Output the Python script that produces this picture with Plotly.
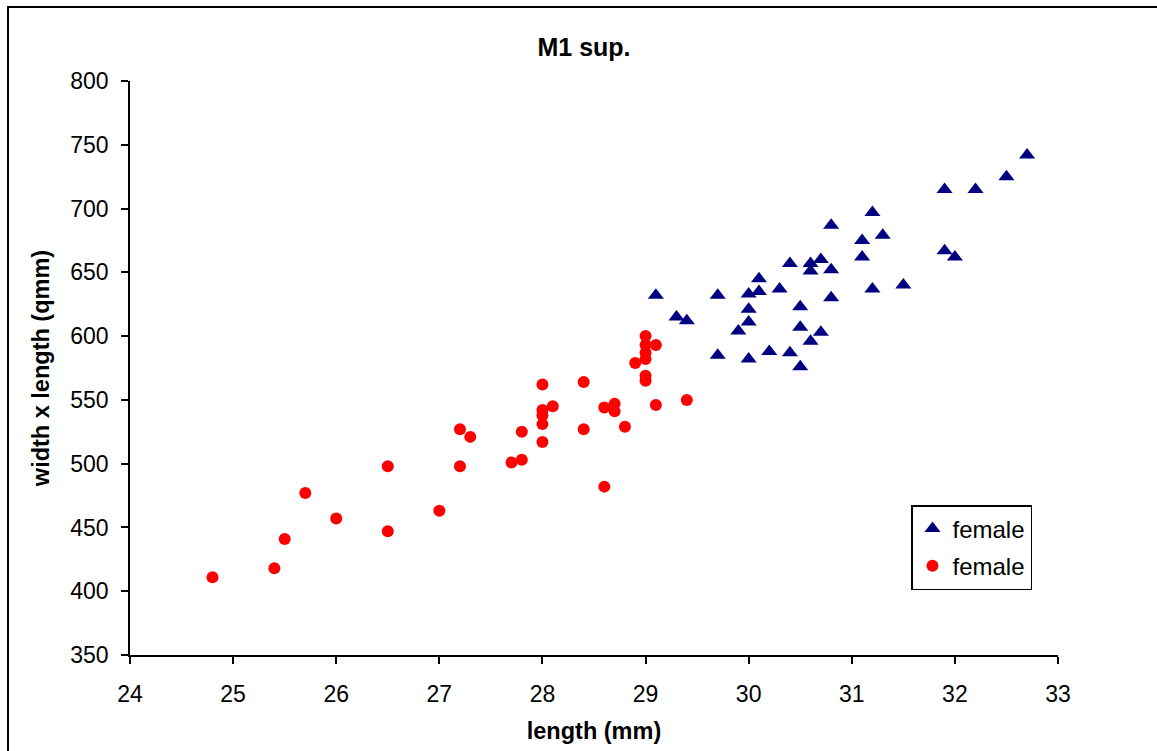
import plotly.graph_objects as go

# Data
blue_x = [29.1, 29.3, 29.4, 29.7, 29.7, 29.9, 30.0, 30.0, 30.0, 30.0, 30.1, 30.1, 30.2,
          30.3, 30.4, 30.4, 30.5, 30.5, 30.5, 30.6, 30.7, 30.6, 30.6, 30.7, 30.8, 30.8,
          30.8, 31.1, 31.1, 31.2, 31.2, 31.3, 31.5, 31.9, 31.9, 32.0, 32.2, 32.5, 32.7]
blue_y = [632, 615, 612, 632, 585, 604, 611, 621, 633, 582, 635, 645, 588,
          637, 587, 657, 623, 607, 576, 596, 603, 651, 657, 660, 630, 652,
          687, 675, 662, 697, 637, 679, 640, 715, 667, 662, 715, 725, 742]

red_x = [24.8, 25.4, 25.5, 25.7, 26.0, 26.5, 26.5, 27.0, 27.2, 27.2, 27.3, 27.7, 27.8,
         27.8, 28.0, 28.0, 28.0, 28.0, 28.0, 28.1, 28.4, 28.4, 28.6, 28.6, 28.7, 28.7,
         28.8, 28.9, 29.0, 29.0, 29.0, 29.0, 29.0, 29.0, 29.1, 29.1, 29.4]
red_y = [411, 418, 441, 477, 457, 498, 447, 463, 527, 498, 521, 501, 525,
         503, 562, 542, 538, 531, 517, 545, 564, 527, 544, 482, 547, 541,
         529, 579, 600, 593, 587, 582, 569, 565, 593, 546, 550]

series_names = ["female", "female"]
x_ticks = list(range(24, 34))
y_ticks = list(range(350, 801, 50))

fig = go.Figure()
fig.add_trace(go.Scatter(x=blue_x, y=blue_y, mode="markers", name=series_names[0],
                         legendgroup="a",
                         marker=dict(symbol="triangle-up", size=14, color="#000080",
                                     line=dict(width=0))))
fig.add_trace(go.Scatter(x=red_x, y=red_y, mode="markers", name=series_names[1],
                         legendgroup="b",
                         marker=dict(symbol="circle", size=12, color="#FF0000",
                                     line=dict(width=0))))

L, R, T, B = 130, 1157 - 1058, 81, 751 - 655
W, H = 1157 - L - R, 751 - T - B

def px(xp):
    return (xp - L) / W

def py(yp):
    return (751 - B - yp) / H

font = "Liberation Sans, Arial, sans-serif"
fig.update_layout(
    width=1157, height=751,
    margin=dict(l=L, r=R, t=T, b=B),
    paper_bgcolor="white", plot_bgcolor="white",
    font=dict(family=font, color="black", size=24),
    title=dict(text="<b>M1 sup.</b>", xref="container", x=584 / 1157, xanchor="center",
               y=1 - 47 / 751, yanchor="middle", font=dict(size=25)),
    showlegend=True,
    legend=dict(x=px(911), y=py(505), xanchor="left", yanchor="top",
                bgcolor="white", bordercolor="black", borderwidth=1.5,
                font=dict(size=24), tracegroupgap=3, itemwidth=30,
                itemsizing="trace"),
    shapes=[dict(type="rect", xref="paper", yref="paper",
                 x0=px(8), x1=px(1165), y0=py(7), y1=py(765),
                 line=dict(color="black", width=2), fillcolor="rgba(0,0,0,0)",
                 layer="below")],
)
fig.update_xaxes(range=[24, 33], tickvals=x_ticks, ticktext=[str(v) for v in x_ticks],
                 showline=True, linecolor="black", linewidth=1.5, mirror=False,
                 ticks="outside", ticklen=7, tickwidth=1.5, tickcolor="black",
                 showgrid=False, zeroline=False, tickfont=dict(size=23),
                 ticklabelstandoff=11,
                 title=dict(text="<b>length (mm)</b>", font=dict(size=23.5), standoff=16))
fig.update_yaxes(range=[350, 800], tickvals=y_ticks, ticktext=[str(v) for v in y_ticks],
                 showline=True, linecolor="black", linewidth=1.5, mirror=False,
                 ticks="outside", ticklen=7, tickwidth=1.5, tickcolor="black",
                 showgrid=False, zeroline=False, tickfont=dict(size=23),
                 ticklabelstandoff=8,
                 title=dict(text="<b>width x length (qmm)</b>", font=dict(size=23.5), standoff=14))

fig.write_html("out.html")
